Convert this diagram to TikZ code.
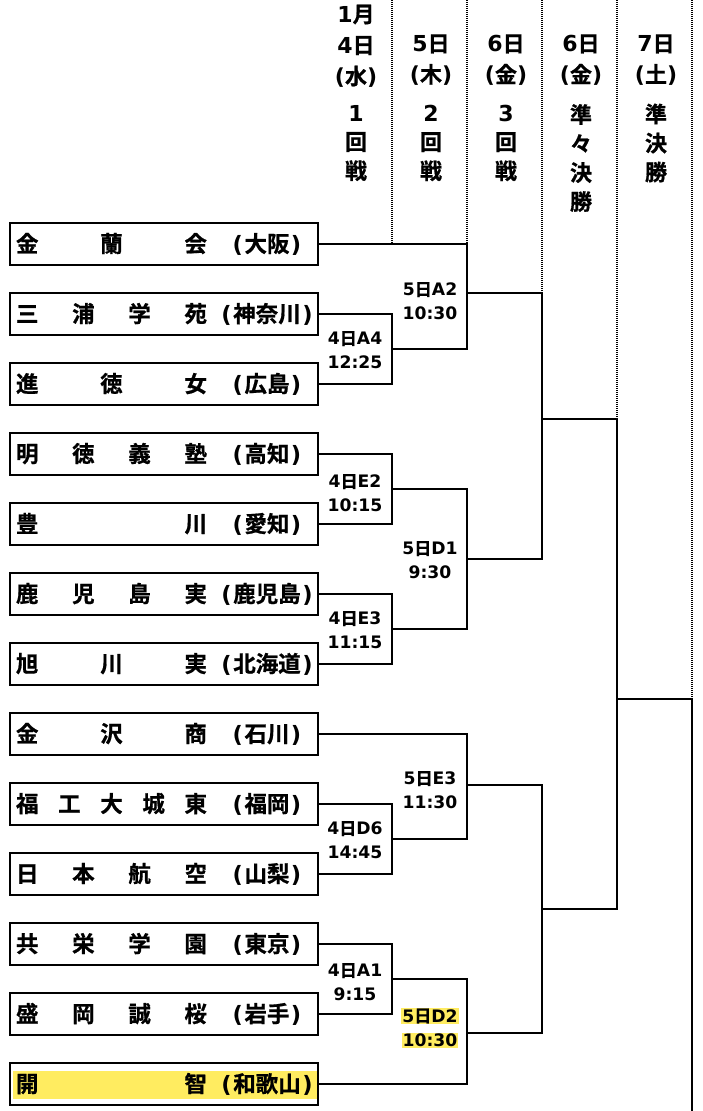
\documentclass[tikz,border=0pt]{standalone}
\usepackage{fontspec}
\setmainfont{Noto Sans CJK JP}[BoldFont={Noto Sans CJK JP Bold},BoldFeatures={FakeBold=0.8}]
\newfontfamily\cjk{Noto Sans CJK JP}[BoldFont={Noto Sans CJK JP Bold},BoldFeatures={FakeBold=0.8}]
\newfontfamily\lat{DejaVu Sans}[BoldFont={DejaVu Sans Bold}]
\usetikzlibrary{backgrounds}
\definecolor{hl}{RGB}{255,236,96}
\newcommand\tm[2]{\hbox to 308pt{\hskip6pt\hbox to 191pt{#1}\hbox to 120pt{\hss#2\hss}\hss}}
\newcommand\pf[1]{{\lat(}\kern1.5pt#1\kern1.5pt{\lat)}}
\newcommand\bkt[3]{\draw[wire] (#2) -- (#2 -| #1) -- (#3 -| #1) -- (#3);}
\begin{document}
\begin{tikzpicture}[x=1pt,y=-1pt,
 team/.style={draw, line width=2.4pt, minimum width=308pt, minimum height=42pt, inner sep=0pt, font=\fontsize{22.5}{24}\selectfont\bfseries},
 wire/.style={line width=2pt},
 dots/.style={line width=1.6pt, dash pattern=on 1pt off 1pt},
 lbl/.style={align=center, font=\fontsize{17.2}{24}\selectfont\bfseries\lat, inner sep=1pt},
 hdrd/.style={align=center, font=\fontsize{22}{31}\selectfont\bfseries},
 hdrr/.style={align=center, font=\fontsize{22}{29}\selectfont\bfseries}]
\useasboundingbox (0,0) rectangle (703,1111);

% teams
\node[team] (t1) at (164,244) {\tm{金\hfill 蘭\hfill 会}{\pf{大阪}}};
\node[team] (t2) at (164,314) {\tm{三\hfill 浦\hfill 学\hfill 苑}{\pf{神奈川}}};
\node[team] (t3) at (164,384) {\tm{進\hfill 徳\hfill 女}{\pf{広島}}};
\node[team] (t4) at (164,454) {\tm{明\hfill 徳\hfill 義\hfill 塾}{\pf{高知}}};
\node[team] (t5) at (164,524) {\tm{豊\hfill 川}{\pf{愛知}}};
\node[team] (t6) at (164,594) {\tm{鹿\hfill 児\hfill 島\hfill 実}{\pf{鹿児島}}};
\node[team] (t7) at (164,664) {\tm{旭\hfill 川\hfill 実}{\pf{北海道}}};
\node[team] (t8) at (164,734) {\tm{金\hfill 沢\hfill 商}{\pf{石川}}};
\node[team] (t9) at (164,804) {\tm{福\hfill 工\hfill 大\hfill 城\hfill 東}{\pf{福岡}}};
\node[team] (t10) at (164,874) {\tm{日\hfill 本\hfill 航\hfill 空}{\pf{山梨}}};
\node[team] (t11) at (164,944) {\tm{共\hfill 栄\hfill 学\hfill 園}{\pf{東京}}};
\node[team] (t12) at (164,1014) {\tm{盛\hfill 岡\hfill 誠\hfill 桜}{\pf{岩手}}};
\node[team] (t13) at (164,1084) {\tm{開\hfill 智}{\pf{和歌山}}};

% match points
\coordinate (A4) at (392,349);
\coordinate (A2) at (467,293);
\coordinate (E2) at (392,489);
\coordinate (E3) at (392,629);
\coordinate (D1) at (467,559);
\coordinate (R3a) at (542,419);
\coordinate (D6) at (392,839);
\coordinate (E3b) at (467,785);
\coordinate (A1) at (392,979);
\coordinate (D2) at (467,1033);
\coordinate (R3b) at (542,909);
\coordinate (QF) at (617,699);
\coordinate (SF) at (692,1111);

% brackets
\bkt{A4}{t2.east}{t3.east}
\bkt{A2}{t1.east}{A4}
\bkt{E2}{t4.east}{t5.east}
\bkt{E3}{t6.east}{t7.east}
\bkt{D1}{E2}{E3}
\bkt{R3a}{A2}{D1}
\bkt{D6}{t9.east}{t10.east}
\bkt{E3b}{t8.east}{D6}
\bkt{A1}{t11.east}{t12.east}
\bkt{D2}{A1}{t13.east}
\bkt{R3b}{E3b}{D2}
\bkt{QF}{R3a}{R3b}
\draw[wire] (QF) -- (QF -| SF) -- (SF);

% dotted column lines
\coordinate (c1) at (392,0);
\coordinate (c2) at (467,0);
\coordinate (c3) at (542,0);
\coordinate (c4) at (617,0);
\coordinate (c5) at (692,0);
\draw[dots] (c1) -- (t1.east -| c1);
\draw[dots] (c2) -- (t1.east -| c2);
\draw[dots] (c3) -- (A2 -| c3);
\draw[dots] (c4) -- (R3a -| c4);
\draw[dots] (c5) -- (QF -| c5);

% match labels
\node[lbl] (LA4) at (355,350) {4{\cjk 日}A4\\12:25};
\node[lbl] (LA2) at (430,301) {5{\cjk 日}A2\\10:30};
\node[lbl] (LE2) at (355,493) {4{\cjk 日}E2\\10:15};
\node[lbl] (LD1) at (430,560) {5{\cjk 日}D1\\9:30};
\node[lbl] (LE3) at (355,630) {4{\cjk 日}E3\\11:15};
\node[lbl] (LE3b) at (430,790) {5{\cjk 日}E3\\11:30};
\node[lbl] (LD6) at (355,840) {4{\cjk 日}D6\\14:45};
\node[lbl] (LA1) at (355,982) {4{\cjk 日}A1\\9:15};
\node[lbl, fill=hl] (LD2a) at (430,1016) {5{\cjk 日}D2};
\node[lbl, fill=hl] (LD2b) at (430,1040) {10:30};

% header
\node[hdrd] (h1d) at (356,46) {{\lat 1}月\\{\lat 4}日\\{\lat(}水{\lat)}};
\node[hdrd] (h2d) at (431,60) {{\lat 5}日\\{\lat(}木{\lat)}};
\node[hdrd] (h3d) at (506,60) {{\lat 6}日\\{\lat(}金{\lat)}};
\node[hdrd] (h4d) at (581,60) {{\lat 6}日\\{\lat(}金{\lat)}};
\node[hdrd] (h5d) at (656,60) {{\lat 7}日\\{\lat(}土{\lat)}};
\node[hdrr] (h1r) at (356,143) {{\lat 1}\\回\\戦};
\node[hdrr] (h2r) at (431,143) {{\lat 2}\\回\\戦};
\node[hdrr] (h3r) at (506,143) {{\lat 3}\\回\\戦};
\node[hdrr] (h4r) at (581,158) {準\\々\\決\\勝};
\node[hdrr] (h5r) at (656,143) {準\\決\\勝};

\begin{scope}[on background layer]
\fill[white] (0,0) rectangle (703,1111);
\fill[hl] ([xshift=4pt,yshift=13pt]t13.west) rectangle ([xshift=-2pt,yshift=-15pt]t13.east);
\end{scope}
\end{tikzpicture}
\end{document}
